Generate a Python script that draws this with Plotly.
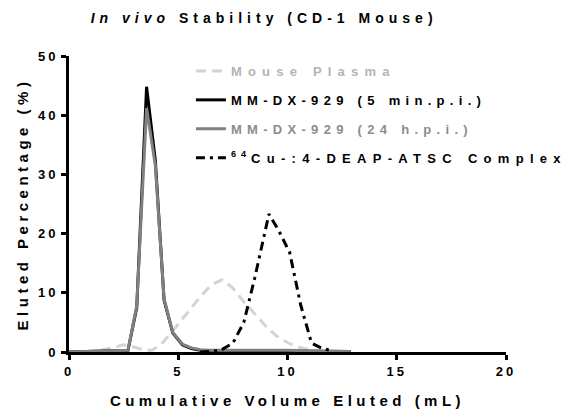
import plotly.graph_objects as go

# ---- data ----
plasma_x = [0, 0.5, 1.0, 1.5, 2.0, 2.5, 3.0, 3.5, 3.8, 4.2, 4.6, 5.0, 5.5, 6.0, 6.5, 7.0,
            7.5, 8.0, 8.5, 9.0, 9.5, 10.0, 10.5, 11.0, 11.5, 12.2]
plasma_y = [0, 0, 0.05, 0.3, 0.7, 1.2, 0.8, 0.3, 0.3, 1.2, 2.9, 4.8, 7.0, 9.3, 11.3, 12.2,
            10.8, 8.5, 6.4, 4.4, 2.7, 1.6, 0.8, 0.4, 0.2, 0]

mm5_x = [0, 2.7, 3.1, 3.55, 3.95, 4.35, 4.75, 5.2, 5.6, 6.0, 6.5, 7.0, 8.0, 9.0, 10.0, 11.0, 12.0, 12.9]
mm5_y = [0, 0.3, 7.5, 44.8, 32.4, 8.8, 3.2, 1.2, 0.6, 0.3, 0.2, 0.2, 0.2, 0.2, 0.1, 0.1, 0.1, 0.1]

mm24_x = [0, 2.7, 3.1, 3.55, 3.95, 4.35, 4.75, 5.2, 5.6, 6.0, 6.5, 7.0, 8.0, 9.0, 10.0, 11.0, 12.0, 12.9]
mm24_y = [0, 0.3, 7.8, 41.2, 31.5, 9.0, 3.3, 1.3, 0.7, 0.4, 0.3, 0.3, 0.4, 0.4, 0.3, 0.2, 0.1, 0.1]

cu_x = [6.0, 6.5, 7.0, 7.5, 8.0, 8.5, 9.15, 9.6, 10.1, 10.6, 11.1, 11.6, 12.05]
cu_y = [0, 0.1, 0.4, 1.5, 5.0, 12.5, 23.3, 20.5, 16.8, 8.0, 1.5, 0.6, 0.2]

x_ticks = [0, 5, 10, 15, 20]
y_ticks = [0, 10, 20, 30, 40, 50]

FONT = "Liberation Sans, Arial, sans-serif"

fig = go.Figure()
fig.add_trace(go.Scatter(
    x=plasma_x, y=plasma_y, mode="lines", legendgroup="a",
    name="<span style='color:#b4b4b4;letter-spacing:6.2px'>Mouse Plasma</span>",
    line=dict(color="#d4d4d4", width=3, dash="10px,6px")))
fig.add_trace(go.Scatter(
    x=mm5_x, y=mm5_y, mode="lines", legendgroup="b",
    name="<span style='color:#000000;letter-spacing:5.3px'>MM-DX-929 (5 min.p.i.)</span>",
    line=dict(color="#000000", width=3)))
fig.add_trace(go.Scatter(
    x=mm24_x, y=mm24_y, mode="lines", legendgroup="c",
    name="<span style='color:#8c8c8c;letter-spacing:5.3px'>MM-DX-929 (24 h.p.i.)</span>",
    line=dict(color="#808080", width=3)))
fig.add_trace(go.Scatter(
    x=cu_x, y=cu_y, mode="lines", legendgroup="d",
    name="<sup>64</sup><span style='letter-spacing:6.3px'>Cu-:4-DEAP-ATSC Complex</span>",
    line=dict(color="#000000", width=3, dash="9px,5px,3px,5px")))

fig.update_layout(
    width=573, height=420,
    margin=dict(l=69, r=67, t=56, b=68, autoexpand=False),
    paper_bgcolor="white", plot_bgcolor="white",
    font=dict(family=FONT, size=13, color="black", weight="bold"),
    title=dict(text="<i>In vivo</i> Stability (CD-1 Mouse)", x=0.461, xanchor="center",
               y=0.957, yanchor="middle",
               font=dict(family=FONT, size=14, color="black", weight="bold")),
    legend=dict(x=0.279, y=1.0, xanchor="left", yanchor="top", itemwidth=30,
                bgcolor="rgba(0,0,0,0)", tracegroupgap=9,
                font=dict(family=FONT, size=13, weight="bold")),
    xaxis=dict(range=[0, 20], tickvals=x_ticks, ticktext=[str(v) for v in x_ticks],
               automargin=False,
               showgrid=False, zeroline=False, showline=True, linecolor="black", linewidth=3,
               ticks="outside", ticklen=5, tickwidth=2.5, tickcolor="black",
               title=dict(text="Cumulative Volume Eluted (mL)", standoff=18,
                          font=dict(family=FONT, size=15, weight="bold")),
               tickfont=dict(family=FONT, size=13, weight="bold")),
    yaxis=dict(range=[0, 50], tickvals=y_ticks, ticktext=[str(v) for v in y_ticks],
               automargin=False,
               showgrid=False, zeroline=False, showline=True, linecolor="black", linewidth=3,
               ticks="outside", ticklen=5, tickwidth=2.5, tickcolor="black",
               title=dict(text="Eluted Percentage (%)", standoff=12,
                          font=dict(family=FONT, size=15, weight="bold")),
               tickfont=dict(family=FONT, size=13, weight="bold")),
)

post = """
var s = document.createElement('style');
s.innerHTML = 'html, body {margin: 0 !important; padding: 0 !important;}'
  + ' .gtitle {letter-spacing: 5px !important;}'
  + ' .xtitle, .ytitle {letter-spacing: 4.5px !important;}'
  + ' .legendtext {letter-spacing: 5px;}'
  + ' .xtick text, .ytick text {letter-spacing: 3px !important;}'
  + ' .legend .scrollbox, .legend * {clip-path: none !important;}';
document.head.appendChild(s);
"""
fig.write_html("out.html", post_script=post, config={"displayModeBar": False})
